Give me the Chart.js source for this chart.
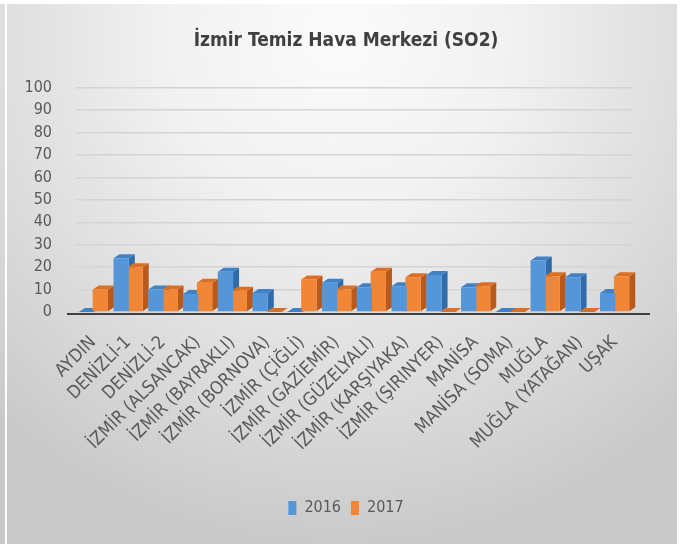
<!DOCTYPE html>
<html>
<head>
<meta charset="utf-8">
<script src="https://cdn.jsdelivr.net/npm/chart.js@4/dist/chart.umd.min.js"></script>
<style>
  html, body { margin: 0; padding: 0; background: #ffffff; }
  #wrap { position: relative; width: 686px; height: 544px; overflow: hidden; background: #ffffff; }
  #bg { position: absolute; left: 0; top: 4px; width: 677px; height: 540px;
        background: radial-gradient(ellipse 75% 95% at 50% 6%, #fbfbfb 0%, #f1f1f1 35%, #dcdcdc 70%, #c9c9c9 100%); }
  #vline { position: absolute; left: 5px; top: 4px; width: 2px; height: 540px; background: #ffffff; }
  canvas { position: absolute; left: 0; top: 0; }
</style>
</head>
<body>
<div id="wrap">
  <div id="bg"></div>
  <div id="vline"></div>
  <canvas id="c" width="686" height="544"></canvas>
</div>
<script>
const categories = ['AYDIN', 'DENİZLİ-1', 'DENİZLİ-2', 'İZMİR (ALSANCAK)', 'İZMİR (BAYRAKLI)',
  'İZMİR (BORNOVA)', 'İZMİR (ÇİĞLİ)', 'İZMİR (GAZİEMİR)', 'İZMİR (GÜZELYALI)', 'İZMİR (KARŞIYAKA)',
  'İZMİR (ŞIRINYER)', 'MANİSA', 'MANİSA (SOMA)', 'MUĞLA', 'MUĞLA (YATAĞAN)', 'UŞAK'];
const values2016 = [0, 24, 10, 8, 18, 8.5, 0, 13, 11, 11.5, 16.5, 11, 0, 23, 15.5, 8.5];
const values2017 = [10, 20, 10, 13, 9.5, 0, 14.5, 10, 18, 15.5, 0, 11.5, 0, 16, 0, 16];
const yTicks = [0, 10, 20, 30, 40, 50, 60, 70, 80, 90, 100];
const seriesNames = ['2016', '2017'];

const FONT = '"Liberation Sans Narrow", "DejaVu Sans Condensed", Lato, sans-serif';

const faces = {
  '#5596d8': { side: '#2f6cab', top: '#3f82c6' },
  '#f08636': { side: '#b9591a', top: '#dd6f22' }
};

const bar3d = {
  id: 'bar3d',
  beforeDatasetsDraw(chart) {
    const ctx = chart.ctx;
    const d = 6, dy = 4;
    const a = chart.chartArea;
    // floor line
    ctx.save();
    ctx.strokeStyle = '#404040';
    ctx.lineWidth = 2;
    ctx.beginPath();
    ctx.moveTo(a.left - 9, a.bottom + 2);
    ctx.lineTo(a.right + 18, a.bottom + 2);
    ctx.stroke();
    ctx.restore();
    chart.data.datasets.forEach((ds, di) => {
      const meta = chart.getDatasetMeta(di);
      const f = faces[ds.backgroundColor];
      meta.data.forEach(el => {
        const p = el.getProps(['x', 'y', 'base', 'width'], true);
        const l = p.x - p.width / 2, r = p.x + p.width / 2;
        const top = Math.min(p.y, p.base), bot = Math.max(p.y, p.base);
        ctx.save();
        ctx.fillStyle = f.side;
        ctx.beginPath();
        ctx.moveTo(r, top); ctx.lineTo(r + d, top - dy); ctx.lineTo(r + d, bot - dy); ctx.lineTo(r, bot);
        ctx.closePath(); ctx.fill();
        ctx.fillStyle = f.top;
        ctx.beginPath();
        ctx.moveTo(l, top); ctx.lineTo(l + d, top - dy); ctx.lineTo(r + d, top - dy); ctx.lineTo(r, top);
        ctx.closePath(); ctx.fill();
        ctx.restore();
      });
    });
  }
};

new Chart(document.getElementById('c'), {
  type: 'bar',
  data: {
    labels: categories,
    datasets: [
      { label: seriesNames[0], data: values2016, backgroundColor: '#5596d8', borderColor: '#2f6cab', borderWidth: 0,
        categoryPercentage: 0.8, barPercentage: 1.1, yAxisID: 'y' },
      { label: seriesNames[1], data: values2017, backgroundColor: '#f08636', borderColor: '#b9591a', borderWidth: 0,
        categoryPercentage: 0.8, barPercentage: 1.1, yAxisID: 'y' }
    ]
  },
  options: {
    responsive: false,
    animation: false,
    layout: { padding: { left: 26, right: 20, top: 0, bottom: 18 } },
    plugins: {
      title: {
        display: true,
        text: 'İzmir Temiz Hava Merkezi (SO2)',
        color: '#404040',
        font: { family: FONT, size: 19, weight: 'bold' },
        padding: { top: 30, bottom: 35 }
      },
      legend: {
        position: 'bottom',
        labels: {
          color: '#595959',
          font: { family: FONT, size: 16 },
          boxWidth: 8,
          boxHeight: 14,
          padding: 10
        }
      },
      tooltip: { enabled: false }
    },
    scales: {
      x: {
        grid: { display: false, drawTicks: false },
        border: { display: false },
        ticks: {
          autoSkip: false, maxRotation: 45, minRotation: 45,
          color: '#595959', font: { family: FONT, size: 18 }, padding: 20
        },
        afterFit(scale) { scale.height = 178; }
      },
      y: {
        position: 'left',
        min: 0, max: 100,
        afterBuildTicks(scale) { scale.ticks = yTicks.map(v => ({ value: v })); },
        grid: { color: '#d4d4d4', lineWidth: 1.5, drawTicks: false },
        border: { display: false },
        ticks: { autoSkip: false, color: '#595959', font: { family: FONT, size: 16 }, padding: 24 },
        afterFit(scale) { scale.width = 50; }
      },
      yR: {
        position: 'right',
        display: true,
        min: 0, max: 100,
        grid: { display: false, drawOnChartArea: false, drawTicks: false },
        border: { display: false },
        ticks: { display: false },
        afterFit(scale) { scale.width = 34; }
      }
    }
  },
  plugins: [bar3d]
});
</script>
</body>
</html>
